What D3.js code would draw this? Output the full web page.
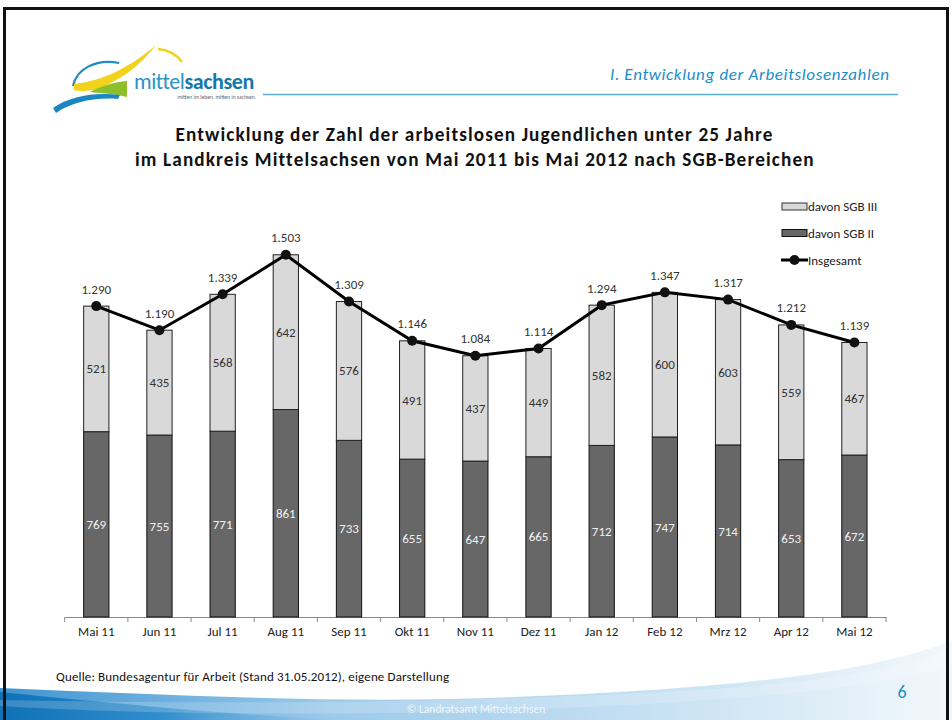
<!DOCTYPE html>
<html><head><meta charset="utf-8">
<script src="https://cdn.jsdelivr.net/npm/d3@7"></script>
<style>
html,body{margin:0;padding:0;background:#fff;}
svg{display:block;}
text{font-family:Carlito,Lato,"Open Sans",sans-serif;}
</style></head>
<body>
<svg id="chart" width="952" height="720"></svg>
<script>
// ---- data ----
const categories = ["Mai 11","Jun 11","Jul 11","Aug 11","Sep 11","Okt 11","Nov 11","Dez 11","Jan 12","Feb 12","Mrz 12","Apr 12","Mai 12"];
const sgb2 = [769,755,771,861,733,655,647,665,712,747,714,653,672];
const sgb3 = [521,435,568,642,576,491,437,449,582,600,603,559,467];
const totals = [1290,1190,1339,1503,1309,1146,1084,1114,1294,1347,1317,1212,1139];
const seriesNames = ["davon SGB III","davon SGB II","Insgesamt"];
const titleLines = ["Entwicklung der Zahl der arbeitslosen Jugendlichen unter 25 Jahre",
                    "im Landkreis Mittelsachsen von Mai 2011 bis Mai 2012 nach SGB-Bereichen"];

const svg = d3.select("#chart");
const fmt = d3.formatLocale({decimal:",",thousands:".",grouping:[3],currency:["","€"]}).format(",d");

// stretch a text to a target width using letter-spacing
function spread(el, target){
  const w = el.node().getComputedTextLength();
  const n = el.text().length;
  el.attr("letter-spacing", (target - w)/Math.max(1,n-1));
}
// fit: grow font-size up to a cap, then spread the rest
function fit(el, target, base, cap){
  el.attr("font-size", base);
  const w = el.node().getComputedTextLength();
  el.attr("font-size", Math.min(cap, base*target/w));
  spread(el, target);
}

// ---- background slide ----
const defs = svg.append("defs");
const g1 = defs.append("linearGradient").attr("id","waveA").attr("x1","0").attr("x2","1").attr("y1","0").attr("y2","0");
g1.append("stop").attr("offset","0").attr("stop-color","#3f95d2");
g1.append("stop").attr("offset","0.35").attr("stop-color","#9ccaea");
g1.append("stop").attr("offset","0.75").attr("stop-color","#cfe5f4");
g1.append("stop").attr("offset","1").attr("stop-color","#f2f8fc");
const g2 = defs.append("linearGradient").attr("id","waveB").attr("x1","0").attr("x2","1").attr("y1","0").attr("y2","0");
g2.append("stop").attr("offset","0").attr("stop-color","#0a6db3");
g2.append("stop").attr("offset","0.5").attr("stop-color","#2c8bcc");
g2.append("stop").attr("offset","1").attr("stop-color","#7db8e2").attr("stop-opacity","0.2");

svg.append("path").attr("fill","url(#waveA)")
  .attr("d","M0,688 C150,694 300,702 450,699 C620,695 760,684 850,668 C900,658 930,650 952,640 L952,720 L0,720 Z");
svg.append("path").attr("fill","url(#waveB)").attr("opacity",0.9)
  .attr("d","M0,692 C80,700 200,712 330,720 L0,720 Z");
svg.append("path").attr("fill","#ffffff").attr("opacity",0.18)
  .attr("d","M0,700 C200,704 450,704 700,690 C820,683 900,668 952,650 L952,665 C880,690 700,705 450,712 C250,716 100,712 0,706 Z");

svg.append("text").attr("x",476).attr("y",713).attr("text-anchor","middle")
  .attr("font-size",11.5).attr("fill","#ffffff").attr("fill-opacity",0.8).text("© Landratsamt Mittelsachsen");
svg.append("text").attr("x",902).attr("y",698).attr("text-anchor","middle")
  .attr("font-size",18).attr("fill","#1a8cc6").text("6");

// frame
svg.append("path").attr("d","M4.5,720 L4.5,8.5 L947.5,8.5 L947.5,720").attr("fill","none").attr("stroke","#111").attr("stroke-width",3);

// ---- logo ----
const logo = svg.append("g");
logo.append("path").attr("fill","none").attr("stroke","#1f8cc4").attr("stroke-width",2.2)
  .attr("d","M73,86 C76,70 95,58 119,63");
logo.append("path").attr("fill","#f2d21b")
  .attr("d","M74,84 C95,82 125,72 156,45 C140,66 120,80 100,88 C92,91 80,92 74,90 Z");
logo.append("path").attr("fill","none").attr("stroke","#f2d21b").attr("stroke-width",2.5)
  .attr("d","M158,49 C168,50 177,55 182,62");
logo.append("path").attr("fill","#8dbf2a")
  .attr("d","M90,92 C100,86 115,82 127,81 L127,97 C115,94 100,93 90,92 Z");
logo.append("path").attr("fill","#1a86c2")
  .attr("d","M53,108 C70,96 95,92 120,95 L118,99 C95,97 72,102 56,113 Z");
const lt = logo.append("text").attr("x",134).attr("y",89).attr("font-size",22).attr("font-family","'Open Sans',sans-serif");
lt.append("tspan").attr("fill","#2a93c6").attr("letter-spacing",-0.4).text("mittel");
lt.append("tspan").attr("fill","#1478ad").attr("font-weight","bold").attr("letter-spacing",-0.4).text("sachsen");
logo.append("text").attr("x",256).attr("y",99).attr("text-anchor","end").attr("font-size",5.5).attr("fill","#666")
  .text("mitten im leben. mitten in sachsen.");
svg.append("line").attr("x1",263).attr("x2",898).attr("y1",94.5).attr("y2",94.5).attr("stroke","#5aaed6").attr("stroke-width",1.5);
const hdr = svg.append("text").attr("x",610).attr("y",80)
  .attr("font-style","italic").attr("fill","#1b8dc7").text("I. Entwicklung der Arbeitslosenzahlen");
fit(hdr, 279, 16, 17);

// ---- title ----
const titleTargets = [597, 678];
titleLines.forEach((t,i)=>{
  const el = svg.append("text").attr("x",474 - titleTargets[i]/2).attr("y",141+i*25)
    .attr("font-weight","bold").attr("fill","#111").text(t);
  fit(el, titleTargets[i], 17, 19.2);
});

// ---- chart ----
const x = d3.scaleBand().domain(categories).range([64.7,886]).padding(0);
const y = d3.scaleLinear().domain([0,1600]).range([617,231.4]);
const bw = x.bandwidth()/2.5;
const cx = d => x(d)+x.bandwidth()/2;

const axis = svg.append("g").attr("transform","translate(0,617)")
  .call(d3.axisBottom(x).tickSize(0).tickPadding(10));
axis.select(".domain").attr("stroke","#888").attr("stroke-width",1.2);
axis.selectAll("text").attr("font-size",13).attr("fill","#222").attr("font-family","Carlito,Lato,sans-serif");
// tick marks between categories
const bounds = categories.map(c=>x(c)).concat([x(categories[categories.length-1])+x.bandwidth()]);
svg.append("g").selectAll("line").data(bounds).join("line")
  .attr("x1",d=>d).attr("x2",d=>d).attr("y1",617).attr("y2",622).attr("stroke","#888").attr("stroke-width",1);

const bars = svg.append("g");
categories.forEach((c,i)=>{
  bars.append("rect").attr("x",cx(c)-bw/2).attr("width",bw)
    .attr("y",y(sgb2[i])).attr("height",y(0)-y(sgb2[i]))
    .attr("fill","#676767").attr("stroke","#111").attr("stroke-width",1);
  bars.append("rect").attr("x",cx(c)-bw/2).attr("width",bw)
    .attr("y",y(sgb2[i]+sgb3[i])).attr("height",y(sgb2[i])-y(sgb2[i]+sgb3[i]))
    .attr("fill","#d9d9d9").attr("stroke","#222").attr("stroke-width",1);
  bars.append("text").attr("x",cx(c)).attr("y",(y(0)+y(sgb2[i]))/2).attr("dy","0.35em")
    .attr("text-anchor","middle").attr("font-size",13).attr("fill","#f0f0f0").text(sgb2[i]);
  bars.append("text").attr("x",cx(c)).attr("y",(y(sgb2[i])+y(sgb2[i]+sgb3[i]))/2).attr("dy","0.35em")
    .attr("text-anchor","middle").attr("font-size",13).attr("fill","#333").text(sgb3[i]);
});

const line = d3.line().x((d,i)=>cx(categories[i])).y(d=>y(d));
svg.append("path").datum(totals).attr("d",line).attr("fill","none").attr("stroke","#000").attr("stroke-width",3);
svg.append("g").selectAll("circle").data(totals).join("circle")
  .attr("cx",(d,i)=>cx(categories[i])).attr("cy",d=>y(d)).attr("r",5).attr("fill","#111");
svg.append("g").selectAll("text").data(totals).join("text")
  .attr("x",(d,i)=>cx(categories[i])).attr("y",d=>y(d)-17).attr("dy","0.35em")
  .attr("text-anchor","middle").attr("font-size",13).attr("fill","#333").text(d=>fmt(d));

// legend
const lg = svg.append("g");
const ly = [206.5, 233, 260];
lg.append("rect").attr("x",782).attr("y",ly[0]-3.5).attr("width",25).attr("height",7).attr("fill","#d9d9d9").attr("stroke","#333");
lg.append("rect").attr("x",782).attr("y",ly[1]-3.5).attr("width",25).attr("height",7).attr("fill","#676767").attr("stroke","#111");
lg.append("line").attr("x1",781).attr("x2",808).attr("y1",ly[2]).attr("y2",ly[2]).attr("stroke","#000").attr("stroke-width",3);
lg.append("circle").attr("cx",794.5).attr("cy",ly[2]).attr("r",5).attr("fill","#111");
seriesNames.forEach((n,i)=>{
  lg.append("text").attr("x",808).attr("y",ly[i]).attr("dy","0.35em").attr("font-size",13).attr("fill","#222").text(n);
});

// source
const src = svg.append("text").attr("x",56).attr("y",676).attr("dy","0.35em").attr("fill","#111")
  .text("Quelle: Bundesagentur für Arbeit (Stand 31.05.2012), eigene Darstellung");
fit(src, 393, 12, 13);
</script>
</body></html>
